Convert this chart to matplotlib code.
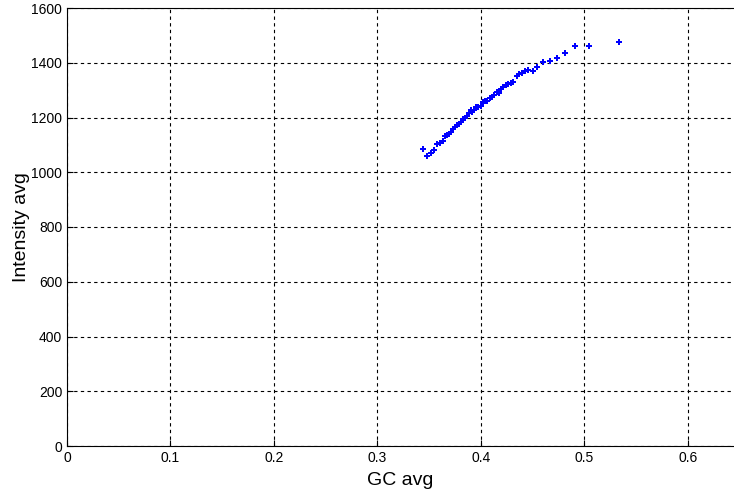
import matplotlib
matplotlib.use("Agg")
import matplotlib.pyplot as plt

gc_avg = [0.3436, 0.3482, 0.3520, 0.3546, 0.3578, 0.3604, 0.3630, 0.3655, 0.3675, 0.3694,
          0.3713, 0.3733, 0.3752, 0.3771, 0.3791, 0.3810, 0.3829, 0.3849, 0.3868, 0.3887,
          0.3900, 0.3913, 0.3932, 0.3952, 0.3971, 0.3997, 0.4023, 0.4042, 0.4061, 0.4087,
          0.4106, 0.4126, 0.4151, 0.4171, 0.4196, 0.4216, 0.4242, 0.4261, 0.4287, 0.4312,
          0.4345, 0.4370, 0.4396, 0.4422, 0.4454, 0.4499, 0.4544, 0.4602, 0.4667, 0.4731,
          0.4808, 0.4911, 0.5047, 0.5330]
intensity_avg = [1084, 1058, 1070, 1082, 1102, 1106, 1113, 1132, 1136, 1141,
                 1148, 1157, 1164, 1173, 1177, 1184, 1193, 1199, 1207, 1215,
                 1226, 1220, 1227, 1237, 1240, 1241, 1258, 1260, 1261, 1272,
                 1275, 1281, 1293, 1291, 1305, 1311, 1318, 1321, 1327, 1331,
                 1352, 1359, 1361, 1369, 1375, 1370, 1386, 1403, 1405, 1416,
                 1437, 1460, 1460, 1475]

x_ticks = [0, 0.1, 0.2, 0.3, 0.4, 0.5, 0.6]
x_tick_labels = ["0", "0.1", "0.2", "0.3", "0.4", "0.5", "0.6"]
y_ticks = [0, 200, 400, 600, 800, 1000, 1200, 1400, 1600]

plt.rcParams['font.family'] = ['Liberation Sans', 'DejaVu Sans']

fig = plt.figure(figsize=(7.34, 5.0), dpi=100)
ax = fig.add_axes([67/734, 54/500, 1 - 67/734, 438/500])
ax.plot(gc_avg, intensity_avg, linestyle='none', marker='P', markersize=5,
        color='#0000ff', markeredgewidth=0)
ax.set_xlim(0, 0.6445)
ax.set_ylim(0, 1600)
ax.set_xticks(x_ticks)
ax.set_xticklabels(x_tick_labels)
ax.set_yticks(y_ticks)
ax.grid(True, color='black', linestyle=(0, (3, 3)), linewidth=0.8)
ax.tick_params(direction='in', length=4, labelsize=10, colors='black')
ax.spines['right'].set_visible(False)
for s in ['left', 'top', 'bottom']:
    ax.spines[s].set_linewidth(0.8)
ax.set_xlabel("GC avg", fontsize=14, labelpad=5)
ax.set_ylabel("Intensity avg", fontsize=14, labelpad=1)
fig.savefig("out.png", dpi=100)
